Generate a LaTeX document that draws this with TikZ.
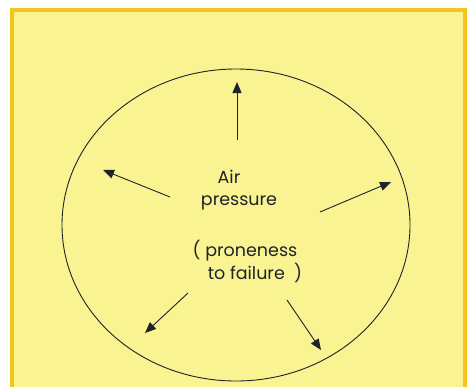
\documentclass[tikz,border=0pt]{standalone}
\usepackage{fontspec}
\setmainfont{Poppins}
\usetikzlibrary{arrows.meta}
\definecolor{paper}{RGB}{250,243,145}
\definecolor{frame}{RGB}{246,196,30}
\definecolor{ink}{RGB}{30,35,40}
\tikzset{
  push/.style={draw=ink, line width=0.9pt, -{Triangle[length=11pt,width=9pt]}},
  lbl/.style={font=\fontsize{17.5}{19}\selectfont, text=ink, inner sep=0pt, anchor=base}
}
\begin{document}
\begin{tikzpicture}[x=1pt,y=-1pt]
\useasboundingbox (0,0) rectangle (468,386);
\fill[white] (0,0) rectangle (468,386);
\fill[paper] (12,10) rectangle (465,390);
\draw[frame, line width=4pt] (12,10) -- (465,10);
\draw[frame, line width=4pt] (12,8) -- (12,390);
\draw[frame, line width=4pt] (465,8) -- (465,390);
\draw[ink, line width=0.9pt] (236,225) ellipse [x radius=174, y radius=156];
\coordinate (c0) at (237,140);
\coordinate (t0) at (237,82);
\coordinate (c1) at (170,197);
\coordinate (t1) at (103,170);
\coordinate (c2) at (320,212);
\coordinate (t2) at (391,182);
\coordinate (c3) at (188,293);
\coordinate (t3) at (145,333);
\coordinate (c4) at (287,300);
\coordinate (t4) at (321,350);
\draw[push] (c0) -- (t0);
\draw[push] (c1) -- (t1);
\draw[push] (c2) -- (t2);
\draw[push] (c3) -- (t3);
\draw[push] (c4) -- (t4);
\node[lbl] (l1) at (229,183) {Air};
\node[lbl] (l2) at (239,205) {pressure};
\node[lbl] (l3) at (245,256) {( proneness};
\node[lbl] (l4) at (255,279) {to failure\ \ )};
\end{tikzpicture}
\end{document}
